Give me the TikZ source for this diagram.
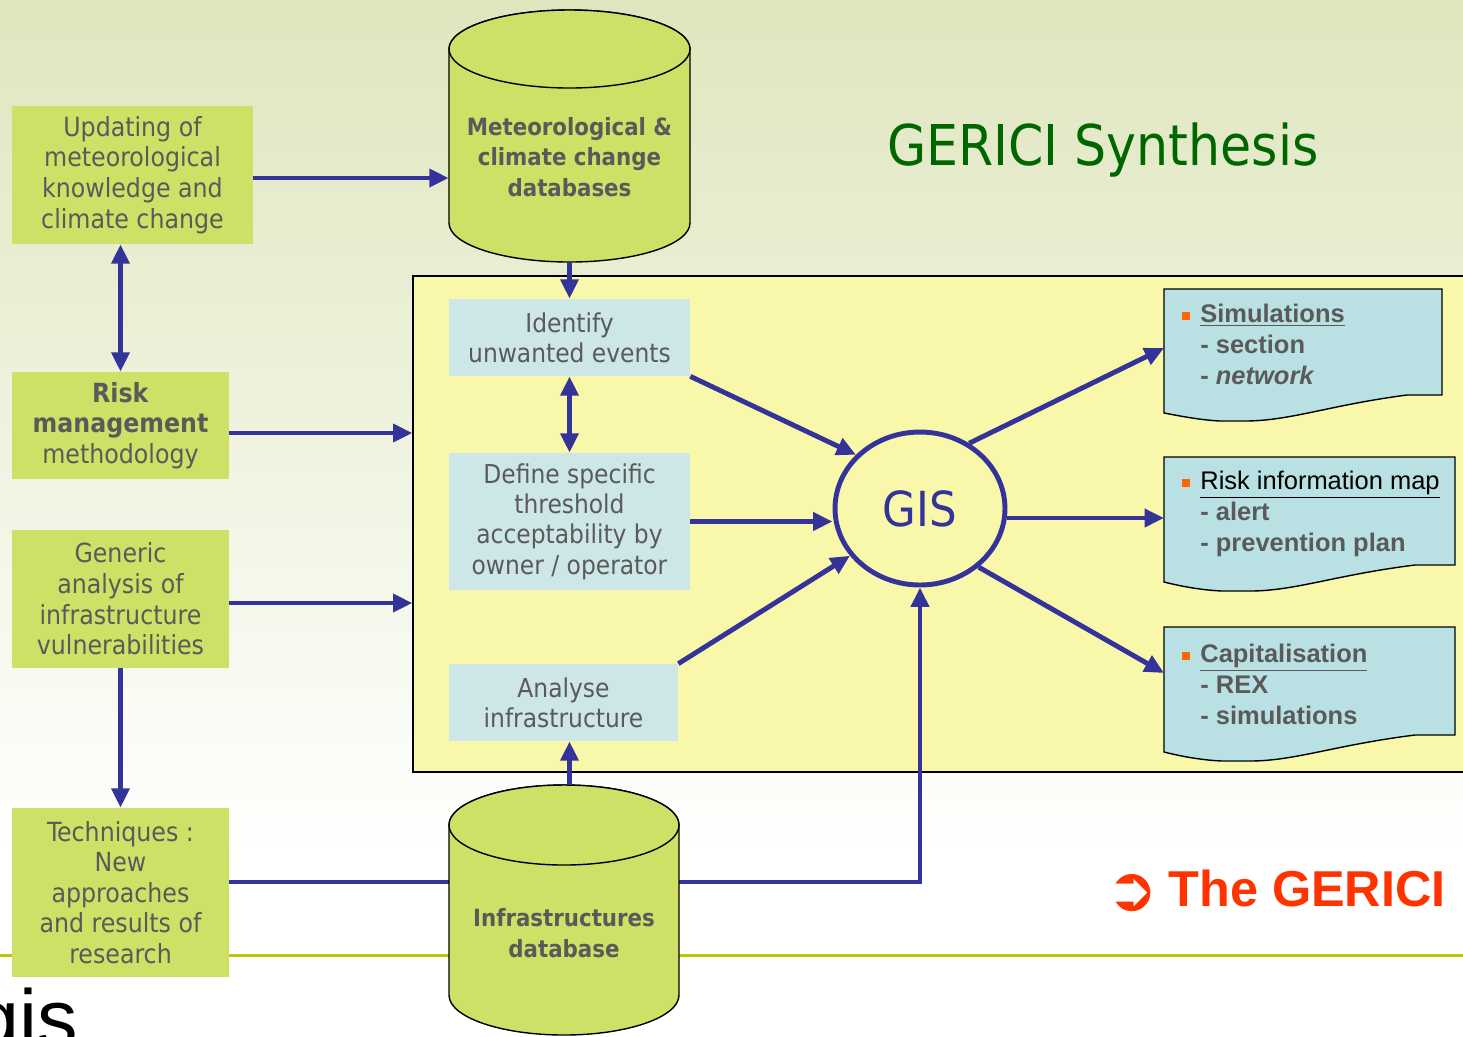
\documentclass[tikz,border=0pt]{standalone}
\usepackage{fontspec}
\setmainfont{DejaVu Sans Condensed}
\newfontfamily\arialf{Liberation Sans}
\newfontfamily\dejaf{DejaVu Sans}
\usetikzlibrary{shapes.geometric,arrows.meta,calc}
\definecolor{bgtop}{RGB}{223,230,190}
\definecolor{boxgreen}{RGB}{206,224,102}
\definecolor{identblue}{RGB}{205,230,232}
\definecolor{docblue}{RGB}{185,224,227}
\definecolor{panelyellow}{RGB}{249,248,170}
\definecolor{arrblue}{RGB}{51,51,153}
\definecolor{txtgray}{RGB}{90,90,90}
\definecolor{titlegreen}{RGB}{0,102,0}
\definecolor{gred}{RGB}{255,51,0}
\definecolor{hline}{RGB}{190,200,0}
\definecolor{bulor}{RGB}{255,102,0}
\newcommand{\bulsq}{\textcolor{bulor}{\rule[1.5pt]{4.5pt}{4.5pt}}}
\begin{document}
\begin{tikzpicture}[x=0.02cm,y=-0.02cm,
  >={Triangle[length=11pt,width=10pt]},
  box/.style={fill=boxgreen, text=txtgray, align=center, inner sep=0pt,
    font=\fontsize{15}{17.4}\selectfont},
  ibox/.style={fill=identblue, text=txtgray, align=center, inner sep=0pt,
    font=\fontsize{14.8}{17.2}\selectfont},
  cyl/.style={fill=boxgreen, draw=black, line width=0.8pt},
  cyltext/.style={text=txtgray, align=center, inner sep=0pt,
    font=\bfseries\fontsize{13.5}{17.4}\selectfont},
  doc/.style={fill=docblue, draw=black, line width=0.8pt},
  doctext/.style={align=left, inner sep=0pt, text=txtgray,
    font=\arialf\bfseries\fontsize{14.5}{17.6}\selectfont},
  conn/.style={draw=arrblue, line width=2.8pt},
  arr/.style={conn, ->},
  darr/.style={conn, <->}]
\useasboundingbox (0,0) rectangle (1463,1036);
\clip (0,0) rectangle (1463,1036);
% background
\shade[top color=bgtop, bottom color=white] (0,0) rectangle (1463,860);
\fill[white] (0,860) rectangle (1463,1036);
\draw[hline, line width=1.7pt] (0,955) -- (1463,955);
% logo fragment
\node[anchor=base east, inner sep=0pt, text=black,
  font=\arialf\fontsize{46}{50}\selectfont] (logo) at (78,1046) {gis};
% panel
\node[draw=black, fill=panelyellow, line width=0.8pt, minimum width=21.14cm,
  minimum height=9.92cm, inner sep=0pt] (panel) at (941.5,524) {};
% title
\node[text=titlegreen, inner sep=0pt, font=\fontsize{32}{38}\selectfont]
  (title) at (1103,150) {GERICI Synthesis};
% left boxes
\node[box, minimum width=4.82cm, minimum height=2.76cm] (upd) at (132.5,175)
  {Updating of\\meteorological\\knowledge and\\climate change};
\node[box, minimum width=4.34cm, minimum height=2.14cm] (risk) at (120.5,425.5)
  {\textbf{Risk}\\\textbf{management}\\methodology};
\node[box, minimum width=4.34cm, minimum height=2.76cm] (gen) at (120.5,599)
  {Generic\\analysis of\\infrastructure\\vulnerabilities};
\node[box, minimum width=4.34cm, minimum height=3.38cm] (tech) at (120.5,892.5)
  {Techniques :\\New\\approaches\\and results of\\research};
% inner boxes
\node[ibox, minimum width=4.82cm, minimum height=1.54cm] (ident) at (569.5,337.5)
  {Identify\\unwanted events};
\node[ibox, minimum width=4.82cm, minimum height=2.74cm] (define) at (569.5,521.5)
  {Define specific\\threshold\\acceptability by\\owner / operator};
\node[ibox, minimum width=4.58cm, minimum height=1.54cm] (analyse) at (563.5,702.5)
  {Analyse\\infrastructure};
% GIS
\node[ellipse, draw=arrblue, line width=2.8pt, fill=panelyellow, minimum width=3.4cm,
  minimum height=3.06cm, inner sep=0pt, text=arrblue, font=\fontsize{27.5}{32}\selectfont]
  (gis) at (920,508.5) {GIS};
% cylinders
\node[minimum width=4.82cm, minimum height=5.04cm, inner sep=0pt] (met) at (569.5,136) {};
\path[cyl] (449,49) -- (449,223) arc[start angle=180,end angle=0,x radius=120.5,y radius=39]
  -- (690,49) arc[start angle=0,end angle=-180,x radius=120.5,y radius=39] -- cycle;
\path[cyl] (569.5,49) ellipse[x radius=120.5,y radius=39];
\node[cyltext] (mettext) at (569.5,157) {Meteorological \&\\climate change\\databases};
\node[minimum width=4.6cm, minimum height=5.02cm, inner sep=0pt] (infra) at (564,910.5) {};
% connectors (under the lower cylinder)
\draw[conn] ([yshift=0.21cm]tech.east) -- ([yshift=0.21cm]tech.east -| infra.west);
\draw[arr] ([yshift=0.21cm]tech.east -| infra.east) -| (gis.south);
\path[cyl] (449,825) -- (449,995) arc[start angle=180,end angle=0,x radius=115,y radius=40]
  -- (679,825) arc[start angle=0,end angle=-180,x radius=115,y radius=40] -- cycle;
\path[cyl] (564,825) ellipse[x radius=115,y radius=40];
\node[cyltext] (infratext) at (564,933) {Infrastructures\\database};
% documents
\path[doc] (1164,289) -- (1442,289) -- (1442,395) -- (1407,395)
  .. controls (1330,405) and (1290,421) .. (1245,421) -- (1220,421)
  .. controls (1200,420) and (1180,416) .. (1164,413) -- cycle;
\path[doc] (1164,457) -- (1455,457) -- (1455,565) -- (1415,565)
  .. controls (1335,575) and (1295,591) .. (1250,591) -- (1222,591)
  .. controls (1200,590) and (1180,586) .. (1164,582) -- cycle;
\path[doc] (1164,627) -- (1455,627) -- (1455,735) -- (1415,735)
  .. controls (1335,745) and (1295,761) .. (1250,761) -- (1222,761)
  .. controls (1200,760) and (1180,756) .. (1164,752) -- cycle;
\coordinate (d1a) at (1164,348);
\coordinate (d2a) at (1164,518);
\coordinate (d3a) at (1164,673);
\node[doctext, anchor=west] (d1t) at (1200,344)
  {\llap{\bulsq\hspace{6pt}}\underline{Simulations}\\ - section\\ - \textit{network}};
\node[doctext, anchor=west] (d2t) at (1200,514)
  {\llap{\bulsq\hspace{6pt}}{\color{black}\mdseries\underline{Risk information map}}\\ - alert\\ - prevention plan};
\node[doctext, anchor=west] (d3t) at (1200,684)
  {\llap{\bulsq\hspace{6pt}}\underline{Capitalisation}\\ - REX\\ - simulations};
% bottom-right label
\node[anchor=west, inner sep=0pt, text=gred, font=\arialf\bfseries\fontsize{28.7}{32}\selectfont]
  (gerici) at (1106,891) {\raisebox{-2.5pt}{\dejaf\mdseries\fontsize{35}{40}\selectfont ➲}\hspace{6pt}The GERICI};
% connectors
\draw[arr] ([yshift=-0.06cm]upd.east) -- ([yshift=-0.06cm]upd.east -| met.west);
\draw[darr] (upd.south -| risk.north) -- (risk.north);
\draw[arr] ([yshift=-0.15cm]risk.east) -- ([yshift=-0.15cm]risk.east -| panel.west);
\draw[arr] ([yshift=-0.08cm]gen.east) -- ([yshift=-0.08cm]gen.east -| panel.west);
\draw[arr] (gen.south) -- (tech.north);
\draw[arr] (met.south -| ident.north) -- (ident.north);
\draw[darr] (ident.south) -- (define.north);
\draw[arr] (infra.north -| ident.south) -- (analyse.south -| ident.south);
\draw[arr] (ident.south east) -- (gis.140);
\draw[arr] (define.east) -- (define.east -| gis.west);
\draw[arr] (analyse.north east) -- (gis.214);
\draw[arr] (gis.53) -- (d1a);
\draw[arr] (gis.east |- d2a) -- (d2a);
\draw[arr] (gis.-45) -- (d3a);
\end{tikzpicture}
\end{document}
